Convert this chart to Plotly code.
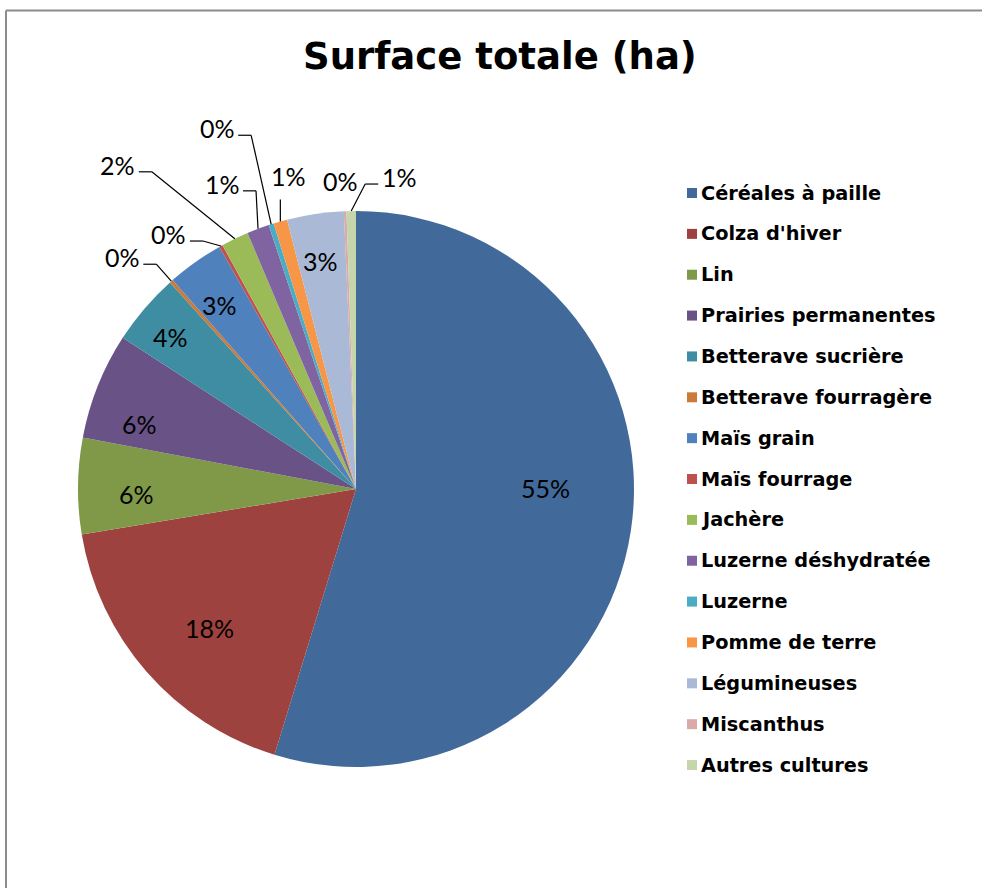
import math
import plotly.graph_objects as go

# ---------------- data ----------------
categories = ["Céréales à paille", "Colza d'hiver", "Lin", "Prairies permanentes",
              "Betterave sucrière", "Betterave fourragère", "Maïs grain", "Maïs fourrage",
              "Jachère", "Luzerne déshydratée", "Luzerne", "Pomme de terre",
              "Légumineuses", "Miscanthus", "Autres cultures"]
surface = [54.9, 17.7, 5.6, 6.2, 4.2, 0.2, 3.3, 0.2, 1.6, 1.3, 0.3, 0.8, 3.3, 0.15, 0.55]

# ---------------- style ----------------
colors = ["#416A9B", "#9E423F", "#7F9949", "#695285", "#3E8DA3", "#CB7B39",
          "#4F81BD", "#C0504D", "#9BBB59", "#8064A2", "#4BACC6", "#F79646",
          "#AAB9D6", "#D9AAA9", "#C6D6AC"]
W, H = 982, 888
CX, CY, R = 356, 489, 278
# label placement: ("in", r_frac, nudge_dx, nudge_dy) or ("out", dx, dy, leader)
label_style = [("in", 0.68, 3, -29), ("in", 0.73, 6, 5), ("in", 0.79, 0, 7),
               ("in", 0.81, -7, 19), ("in", 0.86, -4, 3), ("out", -49, -24, "L"),
               ("in", 0.83, -3, 4), ("out", -52, -12, "L"), ("out", -117, -74, "L"),
               ("out", -36, -45, "L"), ("out", -54, -96, "L"), ("out", 8, -45, "V"),
               ("in", 0.83, -2, 0), ("out", -5, -30, None), ("out", 48, -34, "R")]

TXT_FONT = dict(family="Lato, Open Sans, sans-serif", size=25, color="black")

def px(x):
    return x / W

def py(y):
    return 1 - y / H

fig = go.Figure(go.Pie(
    labels=categories, values=surface, sort=False, direction="clockwise", rotation=0,
    marker=dict(colors=colors, line=dict(width=0)), textinfo="none",
    domain=dict(x=[px(CX - R), px(CX + R)], y=[py(CY + R), py(CY - R)]),
    showlegend=False,
))

total = sum(surface)
annotations = []
shapes = []
cum = 0.0
for i, v in enumerate(surface):
    a0 = cum / total * 360
    cum += v
    a1 = cum / total * 360
    mid = math.radians((a0 + a1) / 2)
    sx, sy = math.sin(mid), -math.cos(mid)
    txt = f"{round(v / total * 100)}%"
    st = label_style[i]
    if st[0] == "in":
        lx = CX + sx * R * st[1] + st[2]
        ly = CY + sy * R * st[1] + st[3]
    else:
        ax, ay = CX + sx * R, CY + sy * R
        lx, ly = ax + st[1], ay + st[2]
        leader = st[3]
        if leader in ("L", "R"):
            s = 1 if leader == "L" else -1
            ey = ly + 7
            pts = [(ax, ay), (lx + s * 34, ey), (lx + s * 21, ey)]
        elif leader == "V":
            pts = [(ax, ay), (ax, ly + 23)]
        else:
            pts = []
        for (x0, y0), (x1, y1) in zip(pts[:-1], pts[1:]):
            shapes.append(dict(type="line", xref="paper", yref="paper",
                               x0=px(x0), y0=py(y0), x1=px(x1), y1=py(y1),
                               line=dict(color="black", width=1.2)))
    annotations.append(dict(x=px(lx), y=py(ly), xref="paper", yref="paper",
                            text=txt, showarrow=False, font=TXT_FONT,
                            xanchor="center", yanchor="middle"))

# manual legend
LEG_X, LEG_Y0, LEG_DY, SQ = 687, 193, 40.86, 10
for i, (c, col) in enumerate(zip(categories, colors)):
    yc = LEG_Y0 + i * LEG_DY
    shapes.append(dict(type="rect", xref="paper", yref="paper",
                       x0=px(LEG_X), x1=px(LEG_X + SQ), y0=py(yc + SQ / 2), y1=py(yc - SQ / 2),
                       fillcolor=col, line=dict(width=0)))
    annotations.append(dict(x=px(LEG_X + SQ + 1.5), y=py(yc), xref="paper", yref="paper",
                            text=f"<b>{c}</b>", showarrow=False, xanchor="left", yanchor="middle",
                            font=dict(family="DejaVu Sans", size=19.3, color="black")))

# title
annotations.append(dict(x=px(500), y=py(56), xref="paper", yref="paper",
                        text="<b>Surface totale (ha)</b>", showarrow=False,
                        xanchor="center", yanchor="middle",
                        font=dict(family="DejaVu Sans", size=37, color="black")))

# chart border (top and left edges visible)
shapes.append(dict(type="line", xref="paper", yref="paper", x0=px(6), y0=py(10.5),
                   x1=1.02, y1=py(10.5), line=dict(color="#8C8C8C", width=2)))
shapes.append(dict(type="line", xref="paper", yref="paper", x0=px(6), y0=py(10.5),
                   x1=px(6), y1=-0.02, line=dict(color="#8C8C8C", width=2)))

fig.update_layout(width=W, height=H, margin=dict(l=0, r=0, t=0, b=0),
                  paper_bgcolor="white", plot_bgcolor="white",
                  annotations=annotations, shapes=shapes)

fig.write_html("out.html")
